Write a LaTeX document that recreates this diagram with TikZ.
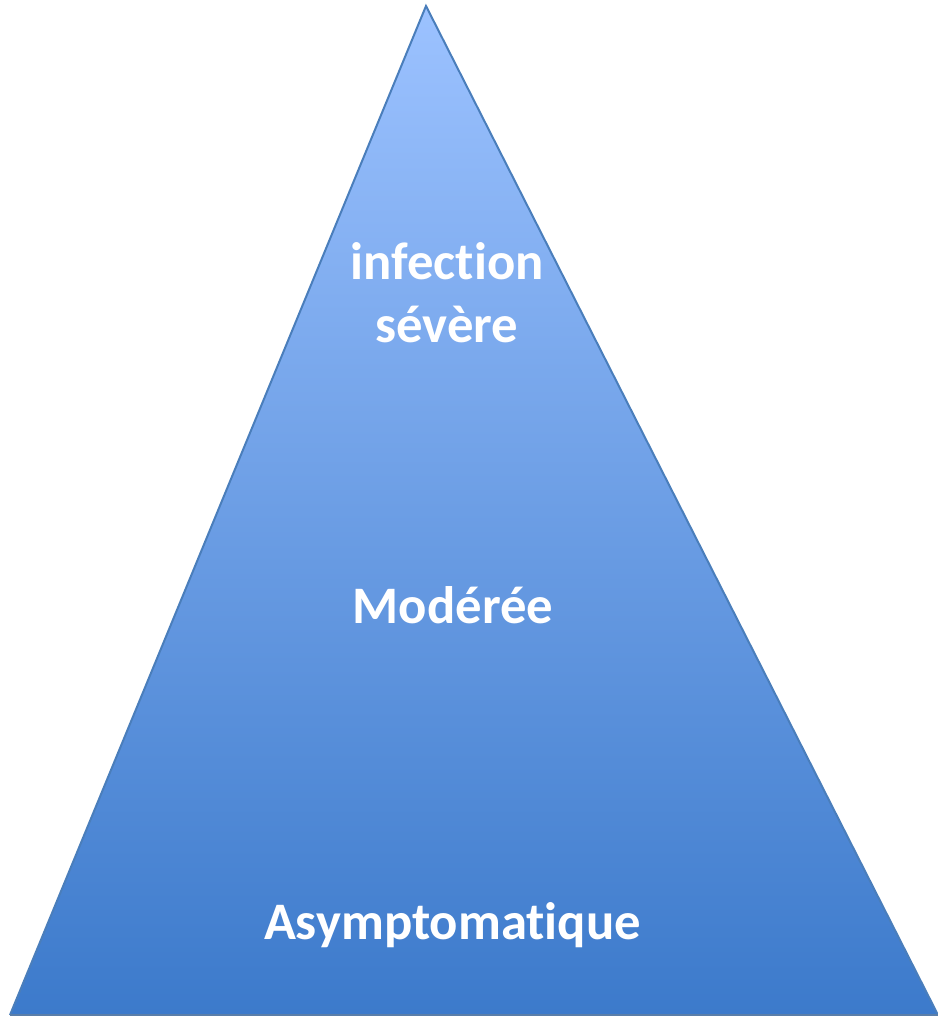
\documentclass[tikz,border=0pt]{standalone}
\usepackage{fontspec}
\setmainfont{Carlito}[Ligatures=NoCommon]
\usetikzlibrary{positioning}
\definecolor{pyrtop}{HTML}{9CC2FF}
\definecolor{pyrbot}{HTML}{3C7ACB}
\definecolor{pyrline}{HTML}{4A7EBB}
\tikzset{level/.style={text=white, font=\fontsize{30}{35.7}\selectfont\bfseries, align=center}}

\begin{document}
\begin{tikzpicture}
		%%%%% START %%%%%
		
		\useasboundingbox (0, 0) rectangle (18.76, 20.34);
		
		\shade[top color=pyrtop, bottom color=pyrbot] (8.52, 20.22) -- (0.2, 0.04) -- (18.76, 0.04) -- cycle;
		\draw[line width=0.4mm, color=pyrline] (0.2, 0.04) -- (8.52, 20.22) -- (18.76, 0.04);
		\draw[line width=0.4mm, color=pyrline!70!gray] (0.2, 0.04) -- (18.76, 0.04);
		
		\node[level] (severe) at (8.94, 14.48) {infection\\sévère};
		\node[level] (moderee) at (9.06, 8.24) {Modérée};
		\node[level] (asympto) at (9.05, 1.84) {Asymptomatique};
		
		%%%%% END %%%%%
	\end{tikzpicture}
\end{document}
